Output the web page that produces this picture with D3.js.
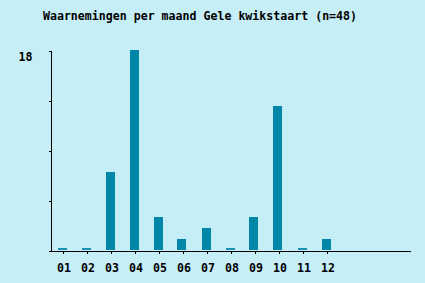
<!DOCTYPE html>
<html>
<head>
<meta charset="utf-8">
<script src="https://cdn.jsdelivr.net/npm/d3@7"></script>
<style>
  body { margin: 0; background: #c6eef7; }
  svg { display: block; }
  text { font-family: "DejaVu Sans Mono", "Liberation Mono", monospace; font-weight: bold; fill: #000; }
</style>
</head>
<body>
<div id="chart"></div>
<script>
// data
const months = ['01', '02', '03', '04', '05', '06', '07', '08', '09', '10', '11', '12'];
const counts = [0, 0, 7, 18, 3, 1, 2, 0, 3, 13, 0, 1];
const yTicks = [0, 4.5, 9, 13.5, 18];
const yLabels = [18];
const title = 'Waarnemingen per maand Gele kwikstaart (n=48)';

const config = {
  width: 425,
  height: 283,
  left: 50,
  top: 50,
  bottom: 250,
  slots: 15,
  slotWidth: 24,
  barWidth: 9
};

const svg = d3.select('#chart').append('svg')
  .attr('width', config.width)
  .attr('height', config.height);

svg.append('rect')
  .attr('width', config.width)
  .attr('height', config.height)
  .attr('fill', '#c6eef7');

const x = d3.scaleLinear()
  .domain([0, config.slots])
  .range([config.left, config.left + config.slots * config.slotWidth]);

const y = d3.scaleLinear()
  .domain([0, 18])
  .range([config.bottom, config.top]);

// title
svg.append('text')
  .attr('x', 200)
  .attr('y', 20)
  .attr('text-anchor', 'middle')
  .attr('font-size', '11.6px')
  .text(title);

// bars
const data = months.map((m, i) => ({ month: m, value: counts[i], idx: i }));

svg.append('g')
  .selectAll('rect')
  .data(data)
  .enter()
  .append('rect')
  .attr('x', d => Math.round(x(d.idx + 0.5) - config.barWidth / 2))
  .attr('width', config.barWidth)
  .attr('y', d => d.value > 0 ? y(d.value) : config.bottom - 2)
  .attr('height', d => d.value > 0 ? config.bottom - y(d.value) : 2)
  .attr('fill', d => d.value > 0 ? '#0087a8' : '#1792b2')
  .attr('shape-rendering', 'crispEdges');

// y axis
const yAxis = svg.append('g')
  .attr('transform', `translate(${config.left + 0.5},0.5)`)
  .call(d3.axisLeft(y)
    .tickValues(yTicks)
    .tickSize(2)
    .tickSizeOuter(0)
    .tickPadding(16)
    .tickFormat(d => yLabels.includes(d) ? d : ''));

yAxis.selectAll('path, line').attr('stroke', '#000').attr('shape-rendering', 'crispEdges');
yAxis.selectAll('text')
  .attr('font-size', '11.6px')
  .attr('dy', '0.32em')
  .attr('transform', 'translate(0,6)');

// x axis
const xAxis = svg.append('g')
  .attr('transform', `translate(0.5,${config.bottom + 0.5})`)
  .call(d3.axisBottom(x)
    .tickValues(months.map((m, i) => i + 0.5))
    .tickFormat(d => months[Math.floor(d)])
    .tickSize(3)
    .tickSizeOuter(0)
    .tickPadding(10));

xAxis.selectAll('path, line').attr('stroke', '#000').attr('shape-rendering', 'crispEdges');
xAxis.selectAll('text').attr('font-size', '11.6px').attr('dx', '1');
</script>
</body>
</html>
